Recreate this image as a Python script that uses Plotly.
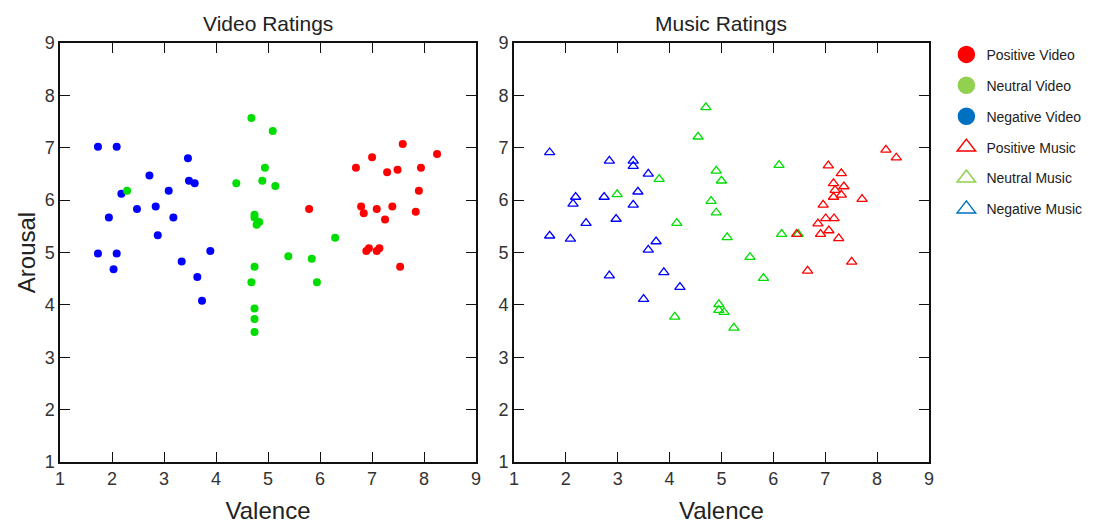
import plotly.graph_objects as go

# ---------------- Data ----------------
# Video ratings (valence, arousal)
pos_video_x = [5.79, 7.59, 8.25, 7.00, 6.69, 7.94, 7.29, 7.49, 7.90, 6.79, 6.84, 7.09, 7.39, 7.84, 7.25, 6.89, 6.94, 7.09, 7.14, 7.54]
pos_video_y = [5.83, 7.07, 6.88, 6.82, 6.62, 6.62, 6.53, 6.58, 6.18, 5.88, 5.75, 5.83, 5.88, 5.78, 5.63, 5.03, 5.08, 5.03, 5.08, 4.73]

neu_video_x = [2.29, 4.68, 5.09, 4.94, 4.39, 4.89, 5.14, 4.74, 4.74, 4.83, 4.78, 6.29, 5.39, 5.84, 4.74, 4.68, 5.94, 4.74, 4.74, 4.74]
neu_video_y = [6.18, 7.57, 7.32, 6.62, 6.32, 6.37, 6.27, 5.72, 5.67, 5.58, 5.53, 5.28, 4.93, 4.88, 4.73, 4.43, 4.43, 3.93, 3.73, 3.48]

neg_video_x = [1.73, 2.09, 3.46, 2.72, 3.48, 3.59, 3.09, 2.18, 2.48, 2.84, 1.94, 3.18, 2.88, 1.73, 2.09, 3.89, 2.03, 3.34, 3.64, 3.73]
neg_video_y = [7.02, 7.02, 6.80, 6.47, 6.37, 6.32, 6.18, 6.12, 5.83, 5.88, 5.67, 5.67, 5.33, 4.98, 4.98, 5.03, 4.68, 4.83, 4.53, 4.08]

# Music ratings (valence, arousal)
pos_music_x = [8.17, 8.37, 7.06, 7.31, 7.16, 7.36, 7.19, 7.31, 7.16, 7.71, 6.96, 7.01, 7.17, 6.86, 7.07, 6.91, 6.45, 7.26, 7.51, 6.66]
pos_music_y = [6.96, 6.81, 6.66, 6.51, 6.32, 6.26, 6.19, 6.10, 6.06, 6.02, 5.91, 5.65, 5.65, 5.55, 5.42, 5.35, 5.35, 5.27, 4.82, 4.65]

neu_music_x = [4.70, 4.55, 4.90, 5.00, 3.80, 2.99, 4.80, 4.90, 4.14, 5.11, 4.95, 4.95, 5.05, 4.10, 5.24, 6.11, 6.16, 6.48, 5.55, 5.81]
neu_music_y = [7.77, 7.21, 6.56, 6.37, 6.40, 6.11, 5.98, 5.76, 5.56, 5.29, 4.01, 3.90, 3.86, 3.77, 3.56, 6.67, 5.35, 5.35, 4.91, 4.51]

neg_music_x = [1.69, 2.84, 3.30, 3.30, 3.59, 3.39, 2.19, 2.14, 2.74, 3.30, 2.39, 2.97, 1.69, 2.09, 3.74, 3.59, 2.84, 3.89, 4.20, 3.50]
neg_music_y = [6.91, 6.75, 6.75, 6.65, 6.50, 6.16, 6.06, 5.93, 6.06, 5.91, 5.56, 5.64, 5.32, 5.26, 5.21, 5.05, 4.56, 4.62, 4.34, 4.11]

ticks = [1, 2, 3, 4, 5, 6, 7, 8, 9]
legend_names = ["Positive Video", "Neutral Video", "Negative Video",
                "Positive Music", "Neutral Music", "Negative Music"]

# ---------------- Styles ----------------
RED, GREEN, BLUE = "#ff0000", "#00dd00", "#0000ff"
LEG_RED, LEG_GREEN, LEG_BLUE = "#ff0000", "#92d050", "#0070c0"
FONT = "Liberation Sans, Arial, sans-serif"

fig = go.Figure()

for xs, ys, c in [(neg_video_x, neg_video_y, BLUE), (neu_video_x, neu_video_y, GREEN),
                  (pos_video_x, pos_video_y, RED)]:
    fig.add_trace(go.Scatter(x=xs, y=ys, mode="markers", xaxis="x", yaxis="y",
                             marker=dict(symbol="circle", size=8, color=c, line=dict(width=0)),
                             showlegend=False, hoverinfo="x+y"))

for xs, ys, c in [(neg_music_x, neg_music_y, BLUE), (neu_music_x, neu_music_y, GREEN),
                  (pos_music_x, pos_music_y, RED)]:
    fig.add_trace(go.Scatter(x=xs, y=ys, mode="markers", xaxis="x2", yaxis="y2",
                             marker=dict(symbol="triangle-up-open", size=9, color=c,
                                         line=dict(width=1.3, color=c)),
                             showlegend=False, hoverinfo="x+y"))

# legend-only entries
leg_styles = [("circle", LEG_RED), ("circle", LEG_GREEN), ("circle", LEG_BLUE),
              ("triangle-up-open", LEG_RED), ("triangle-up-open", LEG_GREEN),
              ("triangle-up-open", LEG_BLUE)]
for i, (name, (sym, c)) in enumerate(zip(legend_names, leg_styles)):
    fig.add_trace(go.Scatter(x=[None], y=[None], mode="markers", name=name,
                             legendgroup=f"g{i}", xaxis="x", yaxis="y",
                             marker=dict(symbol=sym, size=16, color=c,
                                         line=dict(width=1.5, color=c))))

axis_common = dict(range=[1, 9], tickvals=ticks, ticks="inside", ticklen=10, tickwidth=1.3,
                   tickcolor="#111", showline=True, linecolor="#111", linewidth=1.5,
                   mirror="ticks", showgrid=False, zeroline=False, automargin=False,
                   tickfont=dict(family=FONT, size=18, color="#333"), fixedrange=True)

fig.update_layout(
    width=1099, height=525,
    paper_bgcolor="white", plot_bgcolor="white",
    margin=dict(l=60, r=166, t=43, b=63),
    xaxis=dict(domain=[0, 0.4788], anchor="y", **axis_common,
               title=dict(text="Valence", font=dict(family=FONT, size=24, color="#222"), standoff=14)),
    yaxis=dict(domain=[0, 1], anchor="x", **axis_common,
               title=dict(text="Arousal", font=dict(family=FONT, size=24, color="#222"), standoff=2)),
    xaxis2=dict(domain=[0.5223, 1.0], anchor="y2", **axis_common,
                title=dict(text="Valence", font=dict(family=FONT, size=24, color="#222"), standoff=14)),
    yaxis2=dict(domain=[0, 1], anchor="x2", **axis_common),
    legend=dict(x=1.02, y=1.01, xanchor="left", yanchor="top", traceorder="grouped",
                tracegroupgap=9.7, font=dict(family=FONT, size=14, color="#222"),
                bgcolor="rgba(0,0,0,0)", itemsizing="trace"),
    annotations=[
        dict(text="Video Ratings", x=0.2394, y=1.0, xref="paper", yref="paper",
             xanchor="center", yanchor="bottom", yshift=6, showarrow=False,
             font=dict(family=FONT, size=21, color="#222")),
        dict(text="Music Ratings", x=0.7611, y=1.0, xref="paper", yref="paper",
             xanchor="center", yanchor="bottom", yshift=6, showarrow=False,
             font=dict(family=FONT, size=21, color="#222")),
    ],
)

fig.write_html("out.html")
